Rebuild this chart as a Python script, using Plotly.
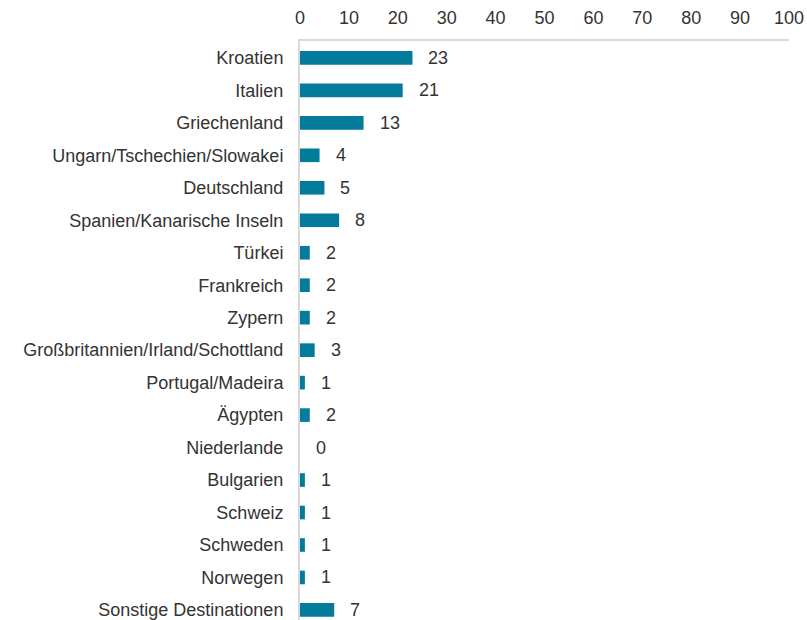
import plotly.graph_objects as go

categories = [
    "Kroatien", "Italien", "Griechenland", "Ungarn/Tschechien/Slowakei",
    "Deutschland", "Spanien/Kanarische Inseln", "Türkei", "Frankreich",
    "Zypern", "Großbritannien/Irland/Schottland", "Portugal/Madeira",
    "Ägypten", "Niederlande", "Bulgarien", "Schweiz", "Schweden",
    "Norwegen", "Sonstige Destinationen",
]
values = [23, 21, 13, 4, 5, 8, 2, 2, 2, 3, 1, 2, 0, 1, 1, 1, 1, 7]
x_ticks = [0, 10, 20, 30, 40, 50, 60, 70, 80, 90, 100]

bar_color = "#037c9b"
text_color = "#333333"
font_family = "Liberation Sans, Arial, sans-serif"
fs = 18

fig = go.Figure()
fig.add_trace(go.Bar(
    x=values, y=categories, orientation="h",
    marker=dict(color=bar_color, line=dict(width=0)),
    width=0.42, hoverinfo="x+y",
))

for c, v in zip(categories, values):
    fig.add_annotation(
        x=v, y=c, text=str(v), showarrow=False,
        xanchor="left", yanchor="middle", xshift=14,
        font=dict(size=fs, color=text_color, family=font_family),
    )

fig.update_layout(
    width=807, height=620,
    margin=dict(l=300, r=18, t=41, b=0, autoexpand=False),
    paper_bgcolor="white", plot_bgcolor="white",
    showlegend=False,
    font=dict(family=font_family, size=fs, color=text_color),
    xaxis=dict(
        side="top", range=[0, 100], tickvals=x_ticks,
        showgrid=False, zeroline=False, automargin=False,
        showline=True, linecolor="#d9d9d9", linewidth=2,
        ticks="", ticklabelstandoff=8,
        tickfont=dict(size=fs, color=text_color),
    ),
    yaxis=dict(
        type="category", categoryorder="array", categoryarray=categories,
        range=[17.31, -0.52], automargin=False,
        showgrid=False, zeroline=False,
        showline=True, linecolor="#d9d9d9", linewidth=2,
        ticks="", ticklabelstandoff=11,
        tickfont=dict(size=fs, color=text_color),
    ),
)

fig.write_html("out.html", config={"displayModeBar": False})

# remove default page margin so the figure sits at the window's top-left
with open("out.html", "r", encoding="utf-8") as f:
    html = f.read()
html = html.replace("<body>", '<body style="margin:0;overflow:hidden">', 1)
with open("out.html", "w", encoding="utf-8") as f:
    f.write(html)
